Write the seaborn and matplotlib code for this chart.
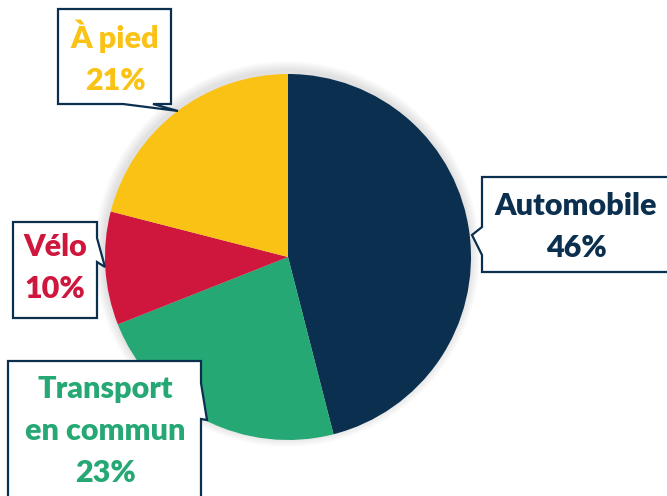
import matplotlib
matplotlib.use("Agg")
import matplotlib.pyplot as plt
import seaborn as sns
from matplotlib.patches import Polygon, Circle

# Mode share data
modes = ["Automobile", "Transport\nen commun", "Vélo", "À pied"]
shares = [46, 23, 10, 21]
colors = ["#0B2F4F", "#25A874", "#CF163D", "#FBC216"]

sns.set_theme(style="white")
plt.rcParams['font.family'] = ['Lato', 'DejaVu Sans']

W, H = 667, 496
fig = plt.figure(figsize=(W / 100, H / 100), dpi=100)
ax = fig.add_axes([0, 0, 1, 1])

navy = "#0B2F4F"
cx, cy, r = 288, 257, 183

# soft shadow around the pie
for k in range(10, 0, -1):
    ax.add_patch(Circle((cx - 1, cy - 3), r + k, color='black', alpha=0.012, lw=0, zorder=0))

# pie (y axis is inverted, so counterclock=True draws clockwise on screen)
ax.pie(shares, colors=colors, startangle=-90, counterclock=True,
       center=(cx, cy), radius=r, frame=True,
       wedgeprops=dict(linewidth=0, zorder=1))
ax.set_xlim(0, W)
ax.set_ylim(H, 0)
ax.set_aspect('equal')
ax.axis('off')

# callout boxes: outline polygon (box + pointer), text position
callouts = {
    "Automobile": dict(poly=[(482, 177), (680, 177), (680, 272), (482, 272), (482, 255), (472, 235), (482, 227)],
                       xy=(576, 227)),
    "Transport\nen commun": dict(poly=[(8, 361), (201, 361), (201, 383), (207, 420), (201, 419), (201, 520), (8, 520)],
                                 xy=(105, 431)),
    "Vélo": dict(poly=[(13, 222), (97, 222), (97, 238), (105, 267), (97, 262), (97, 318), (13, 318)],
                 xy=(55, 268)),
    "À pied": dict(poly=[(58, 9), (171, 9), (171, 104), (153, 104), (178, 111), (123, 104), (58, 104)],
                   xy=(115, 57)),
}

for mode, share, col in zip(modes, shares, colors):
    c = callouts[mode]
    ax.add_patch(Polygon(c['poly'], closed=True, facecolor='white', edgecolor=navy,
                         linewidth=1.6, joinstyle='miter', zorder=3))
    ax.text(c['xy'][0], c['xy'][1], f"{mode}\n{share}%", color=col, fontsize=22,
            fontweight='heavy', ha='center', va='center', linespacing=1.6, zorder=4)

fig.savefig("out.png", dpi=100)
